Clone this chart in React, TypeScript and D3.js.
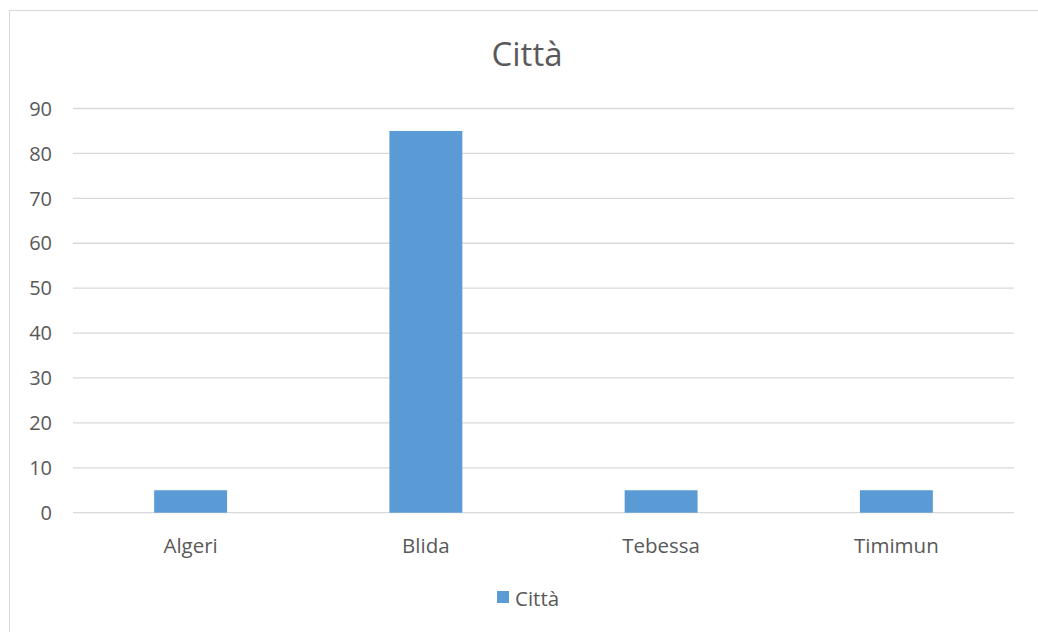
import React from "react";
import * as d3 from "d3";

const categories = ["Algeri", "Blida", "Tebessa", "Timimun"];
const values = [5, 85, 5, 5];
const yTicks = [0, 10, 20, 30, 40, 50, 60, 70, 80, 90];
const seriesName = "Città";
const title = "Città";

export default function App() {
  const W = 1038, H = 632;
  const left = 73, right = 1014, top = 108.5, bottom = 512.7;
  const x = d3.scaleBand<string>().domain(categories).range([left, right]).paddingInner(0.69).paddingOuter(0.345);
  const y = d3.scaleLinear().domain([0, 90]).range([bottom, top]);
  const font = "'Open Sans', 'Liberation Sans', sans-serif";
  const grey = "#595959";
  return (
    <svg width={W} height={H} style={{ position: "absolute", left: 0, top: 0 }} fontFamily={font}>
      <rect x={0} y={0} width={W} height={H} fill="#fff" />
      <rect x={9.5} y={10.5} width={W + 10} height={H + 10} fill="none" stroke="#d9d9d9" strokeWidth={1} />
      <text x={527} y={66} textAnchor="middle" fontSize={33} fill={grey}>{title}</text>
      {yTicks.map((t) => (
        <g key={t}>
          <line x1={left} x2={right} y1={y(t)} y2={y(t)} stroke="#d9d9d9" strokeWidth={1.3} />
          <text x={52} y={y(t)} dy="0.36em" textAnchor="end" fontSize={20} fill={grey}>{t}</text>
        </g>
      ))}
      {categories.map((c, i) => (
        <rect key={c} x={x(c)} y={y(values[i])} width={x.bandwidth()} height={y(0) - y(values[i])} fill="#5b9bd5" />
      ))}
      {categories.map((c) => (
        <text key={c} x={(x(c) as number) + x.bandwidth() / 2} y={552.5} textAnchor="middle" fontSize={20.5} fill={grey}>{c}</text>
      ))}
      <rect x={497} y={591} width={12} height={12} fill="#5b9bd5" />
      <text x={515} y={606} fontSize={20.5} fill={grey}>{seriesName}</text>
    </svg>
  );
}
